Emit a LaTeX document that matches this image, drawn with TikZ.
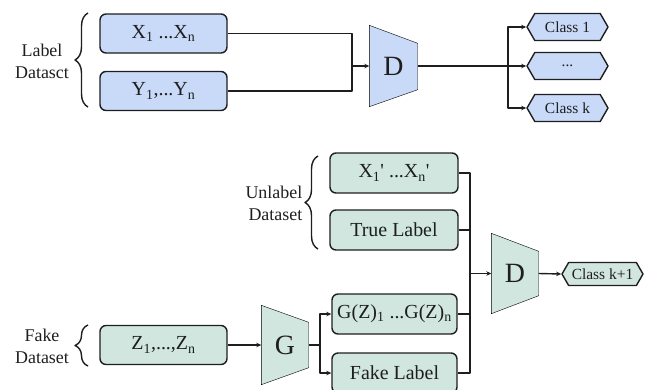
\documentclass[tikz,border=0pt]{standalone}
\usepackage{fontspec}
\setmainfont{Liberation Serif}
\newfontfamily\diagface{Liberation Serif}
\usetikzlibrary{arrows.meta,calc,shapes.symbols,decorations.pathreplacing,backgrounds}
\definecolor{bluefill}{HTML}{C9DAF8}
\definecolor{greenfill}{HTML}{D0E6DF}
\definecolor{ink}{HTML}{1E1E1E}

\begin{document}
\begin{tikzpicture}[x=1bp,y=-1bp,color=ink,line width=1.4bp,line join=round,
  every node/.style={font=\diagface},
  databox/.style={draw,rounded corners=6bp,minimum width=127bp,minimum height=39bp,
    inner sep=0pt,font=\diagface\fontsize{20}{24}\selectfont},
  bluebox/.style={databox,fill=bluefill},
  greenbox/.style={databox,fill=greenfill},
  classtag/.style={draw,signal,signal to=west and east,signal pointer angle=120,
    minimum width=81bp,minimum height=27bp,inner sep=0pt,
    font=\diagface\fontsize{15.5}{18}\selectfont},
  netslot/.style={minimum width=47bp,minimum height=80bp,inner sep=0pt,
    font=\diagface\fontsize{28}{30}\selectfont},
  arr/.style={-{Stealth[length=5bp,width=4.5bp]}},
  side/.style={font=\diagface\fontsize{18}{22}\selectfont,align=center,inner sep=0pt},
  curly/.style={decorate,decoration={brace,amplitude=13bp}}]

\clip (0,0) rectangle (653,389);

% ---------- labelled data through the discriminator ----------
\node[bluebox] (xa) at (163.5,33.5) {X\textsubscript{1} ...X\textsubscript{n}};
\node[bluebox] (ya) at (163.5,91) {Y\textsubscript{1},...Y\textsubscript{n}};
\node[side] (lbl1) at (42,61) {Label\\Datasct};
\draw[curly] (88,107) -- (88,13);

\node[netslot] (D1) at (393.5,66) {D};
\begin{scope}[on background layer]
  \filldraw[fill=bluefill] (D1.north west) -- (D1.south west)
    -- ($(D1.south east)+(0,-17)$) -- ($(D1.north east)+(0,18)$) -- cycle;
\end{scope}

\node[classtag,fill=bluefill] (c1) at (567.5,27) {Class 1};
\node[classtag,fill=bluefill] (c2) at (567.5,66) {...};
\node[classtag,fill=bluefill] (c3) at (567.5,108) {Class k};

\coordinate (j1) at (352,66);
\coordinate (j2) at (508,66);
\draw (xa.east) -- (xa.east -| j1) -- (ya.east -| j1) -- (ya.east);
\draw[arr] (j1) -- (D1.west);
\draw (D1.east) -- (j2);
\draw[arr] (j2) |- (c1.west);
\draw[arr] (j2) -- (c2.west);
\draw[arr] (j2) |- (c3.west);

% ---------- unlabelled and generated data ----------
\node[greenbox,minimum width=128bp,minimum height=40bp] (xp) at (394,173)
  {X\textsubscript{1}\textquotesingle{} ...X\textsubscript{n}\textquotesingle};
\node[greenbox,minimum width=128bp,minimum height=40bp] (tl) at (394,230) {True Label};
\node[side,align=right,anchor=east] (lbl2) at (303,203) {Unlabel\\Dataset};
\draw[curly] (318,249) -- (318,156);

\node[greenbox] (zb) at (163.5,345) {Z\textsubscript{1},...,Z\textsubscript{n}};
\node[side] (lbl3) at (42,346) {Fake\\Dataset};
\draw[curly] (88,366) -- (88,325);

\node[netslot,minimum width=46bp,minimum height=78bp] (G) at (285,345) {G};
\node[greenbox,minimum width=125bp,minimum height=40bp] (gz) at (394.5,314)
  {G(Z)\textsubscript{1} ...G(Z)\textsubscript{n}};
\node[greenbox,minimum width=125bp,minimum height=40bp] (fl) at (394.5,373) {Fake Label};

\node[netslot,minimum width=46bp,minimum height=79bp] (D2) at (515,273.5) {D};
\begin{scope}[on background layer]
  \filldraw[fill=greenfill] (G.north west) -- (G.south west)
    -- ($(G.south east)+(0,-17)$) -- ($(G.north east)+(0,17)$) -- cycle;
  \filldraw[fill=greenfill] (D2.north west) -- (D2.south west)
    -- ($(D2.south east)+(0,-18)$) -- ($(D2.north east)+(0,18)$) -- cycle;
\end{scope}

\node[classtag,fill=greenfill,minimum height=23bp] (c4) at (602.5,274) {Class k+1};

\coordinate (j3) at (470,273.5);
\coordinate (j4) at (320,345);
\draw[arr] (zb.east) -- (G.west);
\draw (G.east) -- (j4);
\draw[arr] (j4) |- (gz.west);
\draw[arr] (j4) |- (fl.west);
\draw (xp.east) -- (xp.east -| j3) -- (fl.east -| j3) -- (fl.east);
\draw (tl.east) -- (tl.east -| j3);
\draw (gz.east) -- (gz.east -| j3);
\draw[arr] (j3) -- (D2.west);
\draw[arr] (D2.east) -- (c4.west);
\end{tikzpicture}
\end{document}
